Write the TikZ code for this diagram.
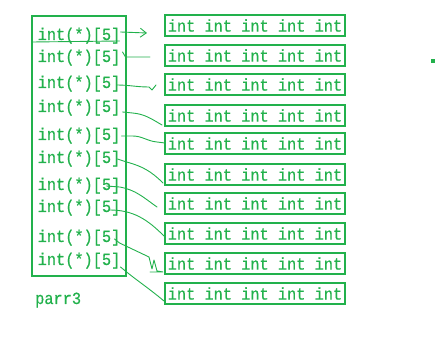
\documentclass[tikz,border=0pt]{standalone}
\usepackage{fontspec}
\newfontfamily\codefont[FakeStretch=0.9,FakeBold=0.6]{Liberation Mono}
\usetikzlibrary{calc,arrows.meta}
\definecolor{paintgreen}{HTML}{22B14C}
\begin{document}
\begin{tikzpicture}[x=1pt,y=1pt,
  every node/.style={text=paintgreen, font=\codefont\fontsize{17}{17}\selectfont},
  rowbox/.style={draw=paintgreen, line width=2pt, minimum width=180pt, minimum height=21pt, inner sep=0pt},
  ptrlabel/.style={anchor=base west, inner sep=0pt},
  conn/.style={draw=paintgreen, line width=0.9pt, line cap=round, line join=round}]
\useasboundingbox (0,0) rectangle (437,337);

% the array of pointers
\draw[paintgreen, line width=2pt] (32,61) rectangle (126,321);
\foreach \i/\b in {1/297,2/275,3/249,4/225,5/197,6/174,7/147,8/125,9/95,10/72}
  \node[ptrlabel] (L\i) at (37.5,\b) {int(*)[5]};
\node[ptrlabel] (name) at (35,33) {parr3};

% the rows of five ints
\foreach \i/\y in {1/311.5,2/281.5,3/252.5,4/221.5,5/193.5,6/162.5,7/133.5,8/103.5,9/73.5,10/43.5}
  \node[rowbox] (R\i) at (255,\y) {int int int int int};

% underline of the first entry
\draw[conn] ($(L1.base west)+(-5,-2)$) -- ($(L1.base east)+(-1,-1)$);

% pointers
\draw[conn, -{Straight Barb[length=6pt,width=9pt]}] ($(L1.base east)+(0,8)$) -- ($(R1.west)+(-17,-7.5)$);
\draw[conn] ($(L2.base east)+(2,10)$) -- ++(3,-5) -- ($(R2.west)+(-14,-1.5)$);
\draw[conn] ($(L3.base east)+(-4,3)$) to[out=0,in=180] ($(R3.west)+(-15,-2.5)$) -- ($(R3.west)+(-12,-5.5)$) -- ($(R3.west)+(-8,-0.5)$);
\draw[conn] ($(L4.base east)+(2,0)$) -- ++(10,-1) to[out=-5,in=150] ($(R4.west)+(-2,-9.5)$);
\draw[conn] ($(L5.base east)+(1,4)$) -- ++(11,0) to[out=0,in=175] ($(R5.west)+(-7,1.5)$) -- ($(R5.west)+(1,0.5)$);
\draw[conn] ($(L6.base east)+(-3,4)$) -- ++(9,-3) to[out=-15,in=135] ($(R6.west)+(-1,-8.5)$);
\draw[conn] ($(L7.base east)+(-14,4)$) -- ++(13,-1) to[out=-10,in=145] ($(R7.west)+(-7,-3.5)$);
\draw[conn] ($(L8.base east)+(-11,2)$) to[out=0,in=135] ($(R8.west)+(0,-2.5)$);
\draw[conn] ($(L9.base east)+(-6,3)$) -- ++(5,-4) -- ($(R9.west)+(-15,6.5)$) -- ($(R9.west)+(-12,-5.5)$)
  -- ($(R9.west)+(-10,3.5)$) -- ($(R9.west)+(-7,-7.5)$) -- ($(R9.west)+(-1,-8.5)$)
  ($(R9.west)+(-14,-8.5)$) -- ($(R9.west)+(-1,-8.5)$);
\draw[conn] ($(L10.base east)+(0,-2)$) to[out=-40,in=140] ($(R10.west)+(0,-7.5)$);

% stray dot
\fill[paintgreen] (431,274) rectangle (435,278);
\end{tikzpicture}
\end{document}
